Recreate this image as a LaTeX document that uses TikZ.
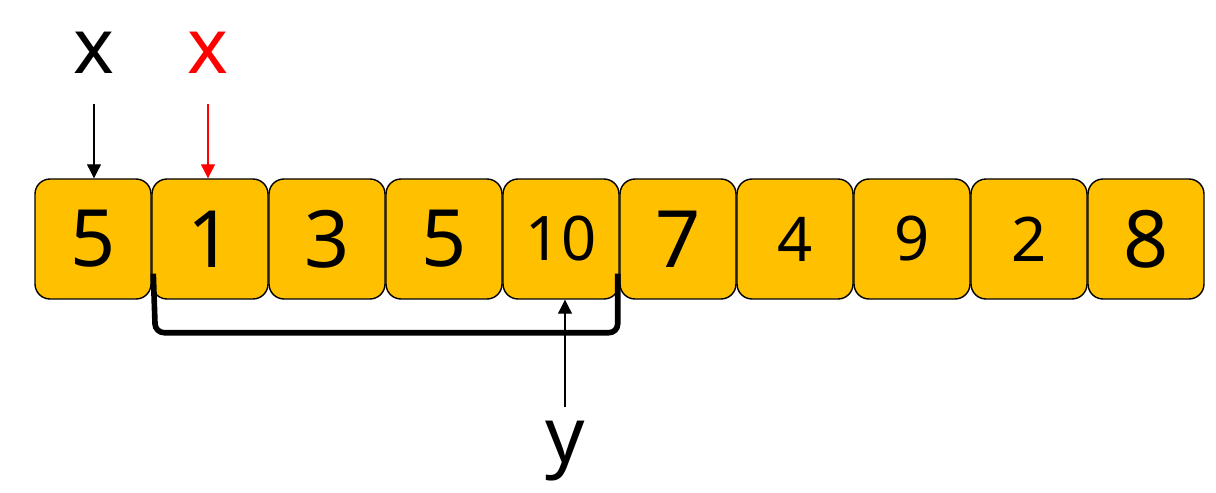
\documentclass[tikz,border=0pt]{standalone}
\usepackage{fontspec}
\setmainfont{Noto Sans}
\usetikzlibrary{arrows.meta, positioning}
\definecolor{cellfill}{RGB}{255,192,0}

\begin{document}
\begin{tikzpicture}[
  x=0.02cm, y=-0.02cm,
  cell/.style={rectangle, rounded corners=0.3cm,
               minimum width=2.32cm, minimum height=2.4cm,
               inner sep=0pt, fill=cellfill, draw=black,
               line width=0.8pt, font=\fontsize{45}{50}\selectfont},
  small/.style={font=\fontsize{35}{40}\selectfont},
  lbl/.style={font=\fontsize{44}{48}\selectfont, inner sep=0pt},
  ptr/.style={-{Triangle[length=8pt, width=8pt]}, line width=0.6pt},
  brace/.style={line width=3.2pt, rounded corners=5pt},
]
\useasboundingbox (0,0) rectangle (1216,493);

%% ── Row position ──────────────────────────────────────
\def\cy{239}  % row of cells

%% ── Array cells (left → right) ────────────────────────
\node[cell]        (c1)  at (93,\cy)   {5};
\node[cell]        (c2)  at (210,\cy)  {1};
\node[cell]        (c3)  at (327,\cy)  {3};
\node[cell]        (c4)  at (444,\cy)  {5};
\node[cell, small] (c5)  at (561,\cy)  {10};
\node[cell]        (c6)  at (678,\cy)  {7};
\node[cell, small] (c7)  at (795,\cy)  {4};
\node[cell, small] (c8)  at (912,\cy)  {9};
\node[cell, small] (c9)  at (1029,\cy) {2};
\node[cell]        (c10) at (1146,\cy) {8};

%% ── Pointer labels ────────────────────────────────────
\node[lbl]      (xold) at (94,53)   {x};
\node[lbl, red] (xnew) at (208,53)  {x};
\node[lbl]      (ylbl) at (565,451) {y};

\coordinate (xoldtop) at (94,104);
\coordinate (xnewtop) at (208,104);
\coordinate (ybot)    at (565,407);

%% ── Pointer arrows ────────────────────────────────────
\draw[ptr]      (xoldtop) -- (xoldtop |- c1.north);
\draw[ptr, red] (xnewtop) -- (xnewtop |- c2.north);
\draw[ptr]      (ybot)    -- (ybot |- c5.south);

%% ── Range bracket under cells 2..5 ────────────────────
\coordinate (bl) at ([xshift=0.04cm, yshift=0.52cm]c2.south west);
\coordinate (br) at ([xshift=-0.04cm, yshift=0.52cm]c5.south east);
\draw[brace] (bl) -- ++(2,59) -| (br);

\end{tikzpicture}
\end{document}
